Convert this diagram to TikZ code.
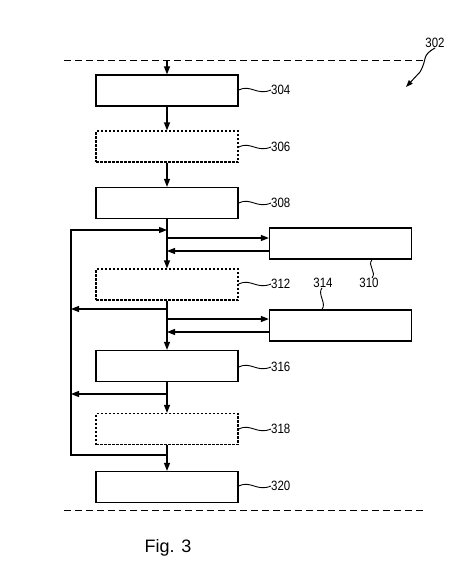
\documentclass[tikz,border=0pt]{standalone}
\usepackage{fontspec}
\setmainfont{Liberation Sans}
\usetikzlibrary{arrows.meta}
\newcommand{\reflbl}[1]{\scalebox{0.85}[1]{#1}}
\begin{document}
\begin{tikzpicture}[x=1pt,y=-1pt,
 box/.style={draw,line width=1.3pt,minimum width=142pt,minimum height=31pt,inner sep=0pt},
 dbox/.style={box,line width=1.2pt,dash pattern=on 2.5pt off 1.5pt},
 flow/.style={line width=1.2pt,-{Triangle[length=8pt,width=6pt]}},
 sep/.style={line width=1pt,dash pattern=on 7pt off 4pt},
 wave/.style={line width=0.9pt},
 lbl/.style={font=\fontsize{13.5}{14}\selectfont,inner sep=0pt}]
\useasboundingbox (0,0) rectangle (474,571);
% separators
\coordinate (s1a) at (64,60); \coordinate (s1b) at (424,60);
\coordinate (s2a) at (64,510); \coordinate (s2b) at (424,510);
\draw[sep] (s1a) -- (s1b);
\draw[sep] (s2a) -- (s2b);
% boxes
\node[box]  (304) at (167,90.5) {};
\node[dbox] (306) at (167,146.5) {};
\node[box]  (308) at (167,203) {};
\node[box]  (310) at (340.5,243.5) {};
\node[dbox] (312) at (167,284.5) {};
\node[box]  (314) at (340.5,325.5) {};
\node[box]  (316) at (167,366) {};
\node[dbox] (318) at (167,429) {};
\node[box]  (320) at (167,487) {};
% main flow
\coordinate (top) at (167,60);
\draw[flow] (top) -- (304.north);
\draw[flow] (304.south) -- (306.north);
\draw[flow] (306.south) -- (308.north);
\draw[flow] (308.south) -- (312.north);
\draw[flow] (312.south) -- (316.north);
\draw[flow] (316.south) -- (318.north);
\draw[flow] (318.south) -- (320.north);
% side links to 310 and 314
\coordinate (o310) at (167,238); \coordinate (i310) at (167,251);
\coordinate (o314) at (167,319); \coordinate (i314) at (167,332);
\draw[flow] (o310) -- (o310 -| 310.west);
\draw[flow] (i310 -| 310.west) -- (i310);
\draw[flow] (o314) -- (o314 -| 314.west);
\draw[flow] (i314 -| 314.west) -- (i314);
% loop
\coordinate (lb) at (167,455); \coordinate (ll) at (71,455);
\coordinate (lt) at (71,230); \coordinate (jt) at (167,230);
\draw[flow] (lb) -- (ll) -- (lt) -- (jt);
\coordinate (b1) at (167,309); \coordinate (b2) at (167,394);
\draw[flow] (b1) -- (b1 -| ll);
\draw[flow] (b2) -- (b2 -| ll);
% labels
\foreach \n/\y in {304/90,306/147,308/203,312/284,316/367,318/429,320/486}{
  \node[lbl,anchor=west] (t\n) at (271,\y) {\reflbl{\n}};
  \draw[wave] (\n.east |- t\n.west) .. controls +(12,-6) and +(-14,6) .. (t\n.west);
}
\node[lbl] (t314) at (323,283) {\reflbl{314}};
\node[lbl] (t310) at (369,283) {\reflbl{310}};
\draw[wave] (t314.south -| 322,0) .. controls +(-5,6) and +(5,-6) .. (314.north -| 322,0);
\draw[wave] (310.south -| 372,0) .. controls +(-5,6) and +(5,-6) .. (t310.north -| 372,0);
\node[lbl] (t302) at (435,43) {\reflbl{302}};
\coordinate (p302) at (406,87);
\draw[wave,line width=1pt,-{Triangle[length=7pt,width=5pt]}] (t302.south) .. controls +(-14,8) and +(8,-14) .. (420,72) -- (p302);
% caption
\node[font=\fontsize{18}{20}\selectfont,inner sep=0pt] (fig) at (168,548) {Fig. 3};
\end{tikzpicture}
\end{document}
